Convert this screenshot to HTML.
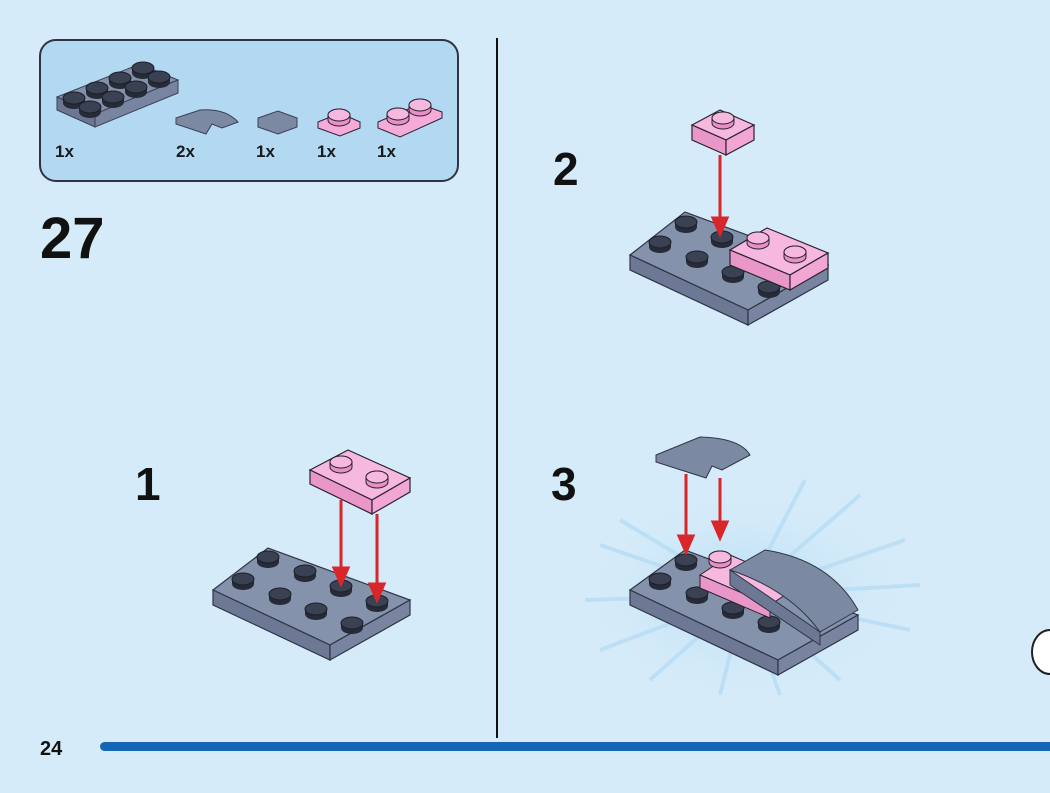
<!DOCTYPE html>
<html><head><meta charset="utf-8"><style>
html,body{margin:0;padding:0;width:1050px;height:793px;overflow:hidden;background:#d5ebf9;font-family:"Liberation Sans",sans-serif;}
</style></head><body>
<svg width="1050" height="793" viewBox="0 0 1050 793" xmlns="http://www.w3.org/2000/svg">
<defs>
<g id="stud"><path d="M-11,0 v-5 a11,6 0 0 1 22,0 v5 a11,6 0 0 1 -22,0z" fill="#262b38"/><ellipse cx="0" cy="-5" rx="11" ry="6" fill="#3a4152" stroke="#1b1f29" stroke-width="1"/></g>
<g id="pstud"><path d="M-11,0 v-5 a11,6 0 0 1 22,0 v5 a11,6 0 0 1 -22,0z" fill="#e88fc6" stroke="#2a2230"/><ellipse cx="0" cy="-5" rx="11" ry="6" fill="#f6b8df" stroke="#2a2230" stroke-width="1"/></g>
<radialGradient id="burst" cx="0.5" cy="0.5" r="0.5"><stop offset="0" stop-color="#a8d6f4" stop-opacity="0.8"/><stop offset="1" stop-color="#d5ebf9" stop-opacity="0"/></radialGradient>
</defs>
<rect x="40" y="40" width="418" height="141" rx="16" fill="#b3d8f2" stroke="#2f3540" stroke-width="2"/>
<g stroke="#3a4152" stroke-width="1">
<polygon points="57,97 140,64 178,80 95,114" fill="#8390a8"/>
<polygon points="57,97 95,114 95,127 57,110" fill="#6b7792"/>
<polygon points="95,114 178,80 178,93 95,127" fill="#7985a0"/>
</g>
<use href="#stud" x="74" y="103"/><use href="#stud" x="97" y="93"/><use href="#stud" x="120" y="83"/><use href="#stud" x="143" y="73"/>
<use href="#stud" x="90" y="112"/><use href="#stud" x="113" y="102"/><use href="#stud" x="136" y="92"/><use href="#stud" x="159" y="82"/>
<path d="M176,118 L200,110 Q225,108 238,122 L222,128 L212,124 L206,134 L176,124Z" fill="#7c89a2" stroke="#3a4152"/>
<polygon points="258,118 278,111 297,118 297,127 278,134 258,127" fill="#7c89a2" stroke="#3a4152"/>
<polygon points="318,122 340,113 360,122 360,128 340,136 318,128" fill="#f4abd9" stroke="#2a2230"/>
<use href="#pstud" x="339" y="120"/>
<polygon points="378,122 420,104 442,112 442,118 400,137 378,128" fill="#f4abd9" stroke="#2a2230"/>
<use href="#pstud" x="398" y="119"/><use href="#pstud" x="420" y="110"/>
<g font-weight="bold" font-size="17" fill="#1a1a1a">
<text x="55" y="157">1x</text><text x="176" y="157">2x</text><text x="256" y="157">1x</text><text x="317" y="157">1x</text><text x="377" y="157">1x</text>
</g>
<text x="40" y="258" font-size="58" font-weight="bold" fill="#111">27</text>
<text x="135" y="500" font-size="46" font-weight="bold" fill="#111">1</text>
<text x="553" y="185" font-size="46" font-weight="bold" fill="#111">2</text>
<text x="551" y="500" font-size="46" font-weight="bold" fill="#111">3</text>
<line x1="497" y1="38" x2="497" y2="738" stroke="#111" stroke-width="2"/>
<text x="40" y="755" font-size="20" font-weight="bold" fill="#111">24</text>
<rect x="100" y="742" width="960" height="9" rx="4.5" fill="#1565b5"/>

<g stroke="#2f3545" stroke-width="1.2">
<polygon points="213,590 268,548 410,600 330,645" fill="#8592ab"/>
<polygon points="213,590 330,645 330,660 213,605" fill="#6c7894"/>
<polygon points="330,645 410,600 410,615 330,660" fill="#7985a0"/>
</g>
<use href="#stud" x="268" y="562"/><use href="#stud" x="305" y="576"/><use href="#stud" x="341" y="591"/><use href="#stud" x="377" y="606"/>
<use href="#stud" x="243" y="584"/><use href="#stud" x="280" y="599"/><use href="#stud" x="316" y="614"/><use href="#stud" x="352" y="628"/>
<g stroke="#2a2230" stroke-width="1.2">
<polygon points="310,470 348,450 410,478 372,500" fill="#f6b8df"/>
<polygon points="310,470 372,500 372,514 310,484" fill="#e996c9"/>
<polygon points="372,500 410,478 410,492 372,514" fill="#f2a6d4"/>
</g>
<use href="#pstud" x="341" y="467"/><use href="#pstud" x="377" y="482"/>
<g stroke="#d8262b" stroke-width="3" fill="#d8262b">
<line x1="341" y1="500" x2="341" y2="572"/><polygon points="334,568 348,568 341,584"/>
<line x1="377" y1="514" x2="377" y2="588"/><polygon points="370,584 384,584 377,600"/>
</g>

<g stroke="#2f3545" stroke-width="1.2">
<polygon points="630,255 685,212 828,265 748,310" fill="#8592ab"/>
<polygon points="630,255 748,310 748,325 630,270" fill="#6c7894"/>
<polygon points="748,310 828,265 828,280 748,325" fill="#7985a0"/>
</g>
<use href="#stud" x="686" y="227"/><use href="#stud" x="660" y="247"/><use href="#stud" x="722" y="242"/><use href="#stud" x="697" y="262"/><use href="#stud" x="733" y="277"/><use href="#stud" x="769" y="292"/>
<g stroke="#2a2230" stroke-width="1.2">
<polygon points="730,250 767,228 828,253 790,275" fill="#f6b8df"/>
<polygon points="730,250 790,275 790,290 730,265" fill="#e996c9"/>
<polygon points="790,275 828,253 828,268 790,290" fill="#f2a6d4"/>
</g>
<use href="#pstud" x="758" y="243"/><use href="#pstud" x="795" y="257"/>
<g stroke="#2a2230" stroke-width="1.2">
<polygon points="692,125 720,110 754,125 726,140" fill="#f6b8df"/>
<polygon points="692,125 726,140 726,155 692,140" fill="#e996c9"/>
<polygon points="726,140 754,125 754,140 726,155" fill="#f2a6d4"/>
</g>
<use href="#pstud" x="723" y="123"/>
<g stroke="#d8262b" stroke-width="3" fill="#d8262b">
<line x1="720" y1="155" x2="720" y2="222"/><polygon points="713,218 727,218 720,234"/>
</g>

<ellipse cx="745" cy="595" rx="170" ry="105" fill="url(#burst)"/>
<g stroke="#b3dbf5" stroke-width="4" opacity="0.7">
<line x1="745" y1="595" x2="600" y2="545"/><line x1="745" y1="595" x2="585" y2="600"/><line x1="745" y1="595" x2="600" y2="650"/>
<line x1="745" y1="595" x2="650" y2="680"/><line x1="745" y1="595" x2="720" y2="695"/><line x1="745" y1="595" x2="780" y2="695"/>
<line x1="745" y1="595" x2="840" y2="680"/><line x1="745" y1="595" x2="910" y2="630"/><line x1="745" y1="595" x2="920" y2="585"/>
<line x1="745" y1="595" x2="905" y2="540"/><line x1="745" y1="595" x2="860" y2="495"/><line x1="745" y1="595" x2="805" y2="480"/>
<line x1="745" y1="595" x2="620" y2="520"/>
</g>
<g stroke="#2f3545" stroke-width="1.2">
<polygon points="630,590 685,550 858,615 778,660" fill="#8592ab"/>
<polygon points="630,590 778,660 778,675 630,605" fill="#6c7894"/>
<polygon points="778,660 858,615 858,630 778,675" fill="#7985a0"/>
</g>
<use href="#stud" x="660" y="584"/><use href="#stud" x="697" y="598"/><use href="#stud" x="733" y="613"/><use href="#stud" x="769" y="627"/><use href="#stud" x="686" y="565"/>
<polygon points="700,575 730,555 800,585 770,605" fill="#f6b8df" stroke="#2a2230"/>
<polygon points="700,575 770,605 770,618 700,588" fill="#e996c9" stroke="#2a2230"/>
<use href="#pstud" x="720" y="562"/>
<path d="M730,570 L765,550 Q830,560 858,610 L820,632 Q790,590 730,570Z" fill="#7c89a2" stroke="#2f3545"/>
<path d="M730,570 L820,632 L820,645 L730,585Z" fill="#6c7894" stroke="#2f3545"/>
<path d="M656,455 L700,437 Q740,438 750,455 L722,470 L712,466 L706,478 L656,462Z" fill="#7c89a2" stroke="#2f3545"/>
<g stroke="#d8262b" stroke-width="3" fill="#d8262b">
<line x1="686" y1="474" x2="686" y2="540"/><polygon points="679,536 693,536 686,552"/>
<line x1="720" y1="478" x2="720" y2="525"/><polygon points="713,522 727,522 720,538"/>
</g>
<path d="M1050,630 a18,22 0 0 0 0,44" fill="#fff" stroke="#222" stroke-width="2"/>
</svg>
</body></html>
